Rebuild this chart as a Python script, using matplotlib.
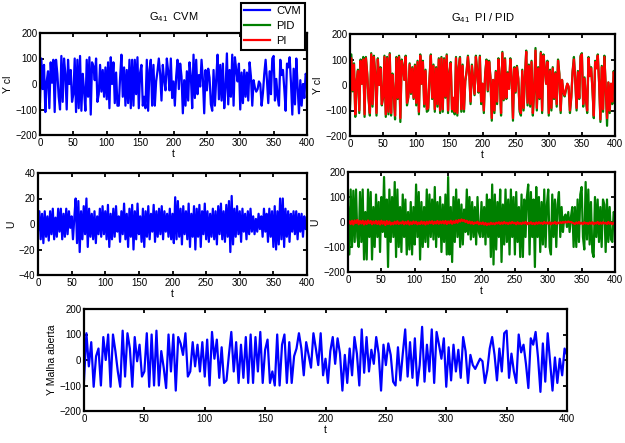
import numpy as np
import matplotlib
matplotlib.use('Agg')
import matplotlib.pyplot as plt
from matplotlib.lines import Line2D

plt.rcParams['font.family'] = ['Liberation Sans', 'DejaVu Sans']
plt.rcParams['mathtext.fontset'] = 'custom'
plt.rcParams['mathtext.rm'] = 'Liberation Sans'
plt.rcParams['mathtext.it'] = 'Liberation Sans:italic'

# time axis, one sample every 2 units
t = np.arange(0, 401, 2)

# open loop output (bottom panel)
y_open = [
    -80, 105, -25, 70, -105, 15, 45, -100, 90, 0,
    100, -105, 100, 35, -45, -105, 115, -65, 105, 45,
    -105, 90, -5, 60, -65, -45, 105, -105, 100, -100,
    115, -100, 35, -30, -110, 100, -45, 100, -120, 90,
    65, 20, 105, -65, -45, 70, -25, 60, -45, 70,
    -65, 80, -100, 110, 5, 80, -70, 50, -90, -80,
    20, 110, -45, 70, -90, 60, -70, 90, -90, 100,
    -90, 90, -45, 110, -90, 40, 80, -90, -45, -100,
    100, -100, 60, 100, -90, 70, -90, 15, 45, 105,
    45, -60, 70, 20, -30, 105, 45, -20, 105, -60,
    5, -90, 35, 90, -15, 85, 25, -120, 20, -90,
    45, -60, 90, 25, -100, 120, -50, 90, -45, 40,
    -15, 90, 25, -120, 60, -20, 65, 20, -85, -100,
    50, -80, 25, 120, -65, 70, -70, 85, -100, -20,
    130, -85, 60, -45, 120, -90, 110, 60, 5, 85,
    -105, 50, -80, 60, -45, 40, -70, 90, 35, -90,
    20, -20, -35, -15, 5, -5, -90, -40, 45, 90,
    20, -80, 45, -45, 105, 115, -70, 25, -45, -90,
    100, 30, 60, -15, -110, 85, 60, 110, 10, -125,
    65, -85, 105, -10, -120, 10, -90, 5, -60, 45,
    20,
]

# closed loop output, CVM controller
y_cvm = [
    -70, 100, -20, 75, -110, 10, 50, -95, 85, 5,
    95, -110, 95, 40, -50, -100, 110, -70, 100, 40,
    -100, 95, 0, 55, -70, -40, 100, -110, 95, -95,
    110, -105, 40, -25, -105, 95, -50, 105, -120, 85,
    70, 15, 100, -70, -40, 75, -30, 55, -50, 65,
    -60, 85, -95, 105, 0, 85, -75, 45, -85, -85,
    25, 115, -50, 65, -85, 55, -75, 95, -95, 95,
    -85, 95, -40, 105, -95, 45, 75, -85, -50, -95,
    95, -105, 55, 95, -85, 75, -85, 10, 50, 100,
    40, -65, 75, 15, -25, 100, 50, -25, 100, -55,
    10, -85, 30, 95, -20, 80, 30, -115, 15, -85,
    50, -65, 85, 30, -95, 115, -55, 95, -40, 35,
    -10, 95, 20, -115, 55, -25, 60, 25, -80, -105,
    55, -85, 20, 115, -60, 75, -65, 80, -95, -15,
    120, -80, 55, -50, 115, -85, 105, 55, 10, 80,
    -100, 45, -75, 55, -50, 45, -65, 85, 30, -85,
    15, -15, -30, -20, 10, 0, -85, -35, 40, 95,
    15, -75, 50, -40, 100, 110, -65, 20, -50, -85,
    95, 35, 55, -20, -105, 80, 65, 105, 5, -120,
    60, -80, 100, -15, -115, 15, -85, 0, -55, 40,
    25,
]

# closed loop output, PI controller
y_pi = [
    -75, 105, -20, 80, -115, 15, 55, -100, 95, 5,
    100, -115, 105, 40, -50, -110, 120, -75, 110, 45,
    -110, 100, 0, 65, -75, -45, 110, -115, 105, -105,
    120, -110, 40, -30, -120, 105, -50, 110, -130, 95,
    70, 20, 110, -70, -45, 80, -30, 65, -50, 75,
    -70, 90, -105, 115, 5, 90, -75, 55, -95, -90,
    25, 115, -50, 75, -95, 65, -75, 100, -100, 105,
    -95, 100, -45, 115, -100, 45, 85, -95, -50, -105,
    105, -110, 65, 105, -95, 75, -95, 15, 50, 110,
    45, -65, 75, 20, -35, 110, 50, -25, 110, -65,
    5, -100, 40, 95, -20, 90, 30, -130, 20, -100,
    50, -65, 100, 30, -110, 125, -55, 100, -50, 45,
    -15, 100, 30, -130, 65, -25, 70, 25, -95, -110,
    55, -90, 30, 130, -70, 75, -75, 90, -110, -20,
    135, -90, 65, -50, 125, -100, 115, 65, 5, 90,
    -110, 55, -90, 65, -50, 45, -75, 95, 40, -100,
    20, -25, -40, -15, 5, -5, -100, -45, 50, 100,
    20, -90, 50, -50, 110, 120, -75, 25, -50, -100,
    105, 35, 65, -15, -120, 90, 65, 115, 10, -135,
    70, -95, 110, -10, -130, 10, -100, 5, -65, 50,
    20,
]

# closed loop output, PID controller
y_pid = [
    -85, 120, -25, 85, -125, 15, 60, -110, 100, 5,
    110, -125, 110, 45, -55, -120, 125, -85, 115, 50,
    -120, 105, 0, 70, -80, -50, 115, -125, 110, -115,
    125, -120, 45, -35, -135, 110, -55, 115, -145, 100,
    75, 20, 115, -80, -50, 85, -35, 70, -55, 80,
    -80, 95, -115, 120, 5, 95, -85, 60, -105, -100,
    25, 120, -55, 80, -105, 70, -85, 105, -110, 110,
    -105, 105, -50, 120, -110, 50, 90, -105, -55, -115,
    110, -120, 70, 110, -105, 80, -105, 15, 55, 115,
    50, -75, 80, 20, -40, 115, 55, -30, 115, -75,
    5, -110, 45, 100, -25, 95, 30, -140, 20, -110,
    55, -75, 105, 30, -120, 130, -60, 105, -55, 50,
    -15, 105, 30, -140, 70, -30, 75, 25, -105, -120,
    60, -100, 30, 135, -80, 80, -85, 95, -120, -25,
    145, -100, 70, -55, 130, -110, 120, 70, 5, 95,
    -120, 60, -100, 70, -55, 50, -85, 100, 45, -110,
    20, -30, -45, -20, 5, -10, -110, -50, 55, 110,
    20, -100, 55, -55, 115, 125, -85, 30, -55, -110,
    110, 35, 70, -20, -130, 95, 70, 120, 10, -145,
    75, -105, 115, -10, -160, 10, -110, 5, -75, 55,
    25,
]

# control signals
u_cvm = [
    -5, 10, -12, 8, -15, 10, -10, 6, -13, 10,
    -8, 12, -12, 5, -10, 12, -6, 12, -12, 8,
    -10, 12, -8, 10, -3, 6, -12, 5, 20, -15,
    18, -22, 10, -12, 14, -8, 20, -18, 12, -10,
    8, -12, 10, -15, 6, -8, 12, -10, 14, -8,
    10, -12, 15, -18, 8, -12, 12, -10, 14, -6,
    6, -14, 10, -8, 16, -12, 8, -18, 12, -10,
    15, -20, 10, -12, 16, -8, 6, -14, 12, -18,
    10, -10, 14, -12, 8, -6, 15, -14, 10, -10,
    12, -8, 14, -12, 10, -6, 8, -10, 12, -12,
    8, -15, 21, -12, 18, -10, 12, -16, 14, -8,
    10, -12, 16, -18, 8, -10, 14, -20, 12, -10,
    15, -18, 10, -8, 16, -12, 10, -14, 8, -10,
    12, -12, 10, -16, 14, -8, 16, -12, 10, -14,
    15, -10, 18, -22, 22, -16, 12, -10, 14, -8,
    10, -14, 12, -6, 8, -12, 10, -8, 12, -6,
    6, -8, 4, -6, 8, -4, 6, -10, 12, -6,
    8, -14, 12, -10, 10, -18, 14, -20, 10, -16,
    20, -12, 20, -18, 12, -10, 10, -14, 8, -6,
    10, -8, 10, -12, 8, -6, 8, -10, 6, -4,
    2,
]

u_pid = [
    60, -130, 130, -100, 125, -80, 130, -60, -100, 120,
    -80, 130, -150, 40, -150, 130, -60, 120, -150, 60,
    -100, 110, -60, 80, -120, 100, -40, 180, -60, 90,
    -180, 130, -80, 100, -60, 160, -140, 130, -100, 60,
    -120, 110, -60, 90, -130, 40, -110, 80, -130, 60,
    -90, 150, -60, 120, -150, 80, -100, 60, -80, 130,
    -100, 110, -60, 90, -70, 140, -100, 80, -60, 100,
    -120, 70, -80, 110, -130, 180, -130, 60, -160, 100,
    -80, 130, -60, 90, -100, 70, -90, 50, -40, 130,
    -50, 100, -70, 80, -60, 60, -90, 100, -40, -60,
    80, -60, 60, -90, 110, -60, 90, -140, 150, -170,
    110, -110, 80, -60, 130, -160, 70, -90, 130, -80,
    90, -130, 130, -60, 100, -130, 120, -80, 60, -140,
    110, -140, 90, -60, 100, 150, -130, 120, -60, 90,
    -180, 140, -60, 100, -120, 80, -90, 130, -100, 70,
    130, -100, -130, 110, -60, 90, -100, 70, 120, -60,
    60, -40, 20, 30, -20, 40, -40, 20, 60, -100,
    60, -100, 90, -80, 110, 140, -60, -110, 160, -70,
    130, -90, 80, -120, -140, 100, -60, 90, -80, 60,
    -100, 90, 70, -120, 90, -80, 60, -70, -80, 40,
    30,
]

u_pi = [
    -5, 3, -8, 5, -10, 6, -4, 8, -9, 4,
    -6, 5, -10, 3, -8, 6, -5, 4, -9, 2,
    -6, 4, -8, 3, -10, 5, -7, 2, -12, 4,
    -8, 2, -10, -3, -9, 1, -7, 3, -8, -2,
    -6, 2, -9, 0, -7, 3, -10, -1, -8, 2,
    -6, 1, -9, -2, -8, 2, -7, 0, -10, 1,
    -7, 2, -5, 3, -8, 1, -6, 4, -7, 2,
    -5, 3, -6, 4, -8, 2, -5, 5, -7, 3,
    -4, 6, -3, 8, 2, 10, 4, 8, 0, 5,
    -4, 2, -6, 0, -8, -2, -5, 1, -9, -3,
    -8, -2, -10, -4, -12, -6, -10, -3, -8, -5,
    -9, -3, -6, -1, -8, -2, -7, 0, -6, -3,
    -8, -2, -6, 0, -5, -3, -9, -1, -7, -4,
    -8, -2, -6, 0, -9, -3, -7, -1, -8, -4,
    -9, -2, -7, -1, -6, -3, -8, 0, -6, -2,
    -7, -1, -9, -3, -6, 0, -8, -2, -5, -1,
    -4, 0, -3, 1, -2, 2, -1, 0, -3, -5,
    -8, -2, -6, 0, -7, -3, -9, -1, -6, -4,
    -8, -2, -7, -1, -9, -3, -6, 0, -8, -2,
    -7, -1, -6, -3, -8, 0, -7, -2, -9, -3,
    -5,
]

xticks = list(range(0, 401, 50))

W, H = 625, 443


def place(left, top, right, bottom):
    return [left / W, 1 - bottom / H, (right - left) / W, (bottom - top) / H]


def style(ax, lim, ticks, ylabel):
    ax.set_xlim(0, 400)
    ax.set_ylim(-lim, lim)
    ax.set_xticks(xticks)
    ax.set_yticks(ticks)
    ax.tick_params(direction='in', top=True, right=True, labelsize=7,
                   length=3, width=1.3, pad=2, colors='black')
    for s in ax.spines.values():
        s.set_linewidth(1.6)
    ax.set_xlabel('t', fontsize=7.5, labelpad=1)
    ax.set_ylabel(ylabel, fontsize=7.5, labelpad=2)


fig = plt.figure(figsize=(6.25, 4.43), dpi=100)

ax1 = fig.add_axes(place(40, 33, 307, 135))
ax1.plot(t, y_cvm, c='blue', lw=1.6)
style(ax1, 200, [-200, -100, 0, 100, 200], 'Y cl')
ax1.set_title(r'G$_{\mathrm{41}}$  CVM', fontsize=8, pad=9)

ax2 = fig.add_axes(place(350, 34, 615, 136))
ax2.plot(t, y_pid, c='green', lw=1.6)
ax2.plot(t, y_pi, c='red', lw=1.6)
style(ax2, 200, [-200, -100, 0, 100, 200], 'Y cl')
ax2.set_title(r'G$_{\mathrm{41}}$  PI / PID', fontsize=8, pad=9)

ax3 = fig.add_axes(place(38, 173, 307, 275))
ax3.plot(t, u_cvm, c='blue', lw=1.6)
style(ax3, 40, [-40, -20, 0, 20, 40], 'U')

ax4 = fig.add_axes(place(348, 172, 615, 272))
ax4.plot(t, u_pid, c='green', lw=1.6)
ax4.plot(t, u_pi, c='red', lw=1.6)
style(ax4, 200, [-200, -100, 0, 100, 200], 'U')

ax5 = fig.add_axes(place(84, 309, 567, 411))
ax5.plot(t, y_open, c='blue', lw=1.6)
style(ax5, 200, [-200, -100, 0, 100, 200], 'Y Malha aberta')

handles = [Line2D([], [], c='blue', lw=1.6),
           Line2D([], [], c='green', lw=1.6),
           Line2D([], [], c='red', lw=1.6)]
leg = fig.legend(handles, ['CVM', 'PID', 'PI'], loc='upper left',
                 bbox_to_anchor=(241 / W, 1 - 3 / H), fontsize=8,
                 fancybox=False, framealpha=1, edgecolor='black',
                 handlelength=2.3, handletextpad=0.6, labelspacing=0.45,
                 borderpad=0.3, borderaxespad=0)
leg.get_frame().set_linewidth(1.5)
leg.set_zorder(10)

fig.savefig('out.png', dpi=100)
